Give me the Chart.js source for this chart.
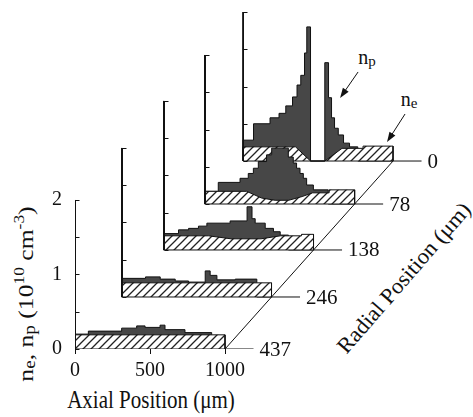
<!DOCTYPE html>
<html lang="en">
<head>
  <meta charset="UTF-8">
  <script src="https://cdn.jsdelivr.net/npm/chart.js"></script>
  <title>Electron and positive ion density</title>
  <style>
    html, body { margin: 0; padding: 0; background: #fff; overflow: hidden; }
    #wrap { position: relative; width: 473px; height: 417px; overflow: hidden; font-family: 'Liberation Serif', 'Times New Roman', serif; color: #111; }
    #chart { position: absolute; left: 0; top: 0; z-index: 2; }
    .lbl { position: absolute; z-index: 1; white-space: nowrap; line-height: 1; }
    .lbl sub { font-size: 75%; vertical-align: -0.15em; }
    .lbl sup { font-size: 68%; vertical-align: 0.6em; }
  </style>
</head>
<body>
<div id="wrap">
  <div class="lbl" style="left:151px;top:401px;font-size:21px;transform:translate(-50%,-50%) scaleY(1.15)">Axial Position (μm)</div>
  <div class="lbl" style="left:25px;top:294px;font-size:21px;transform:translate(-50%,-50%) rotate(-90deg) scaleX(1.22)">n<sub>e</sub>, n<sub>p</sub> (10<sup>10</sup> cm<sup>-3</sup>)</div>
  <div class="lbl" style="left:404px;top:278px;font-size:22px;transform:translate(-50%,-50%) rotate(-49deg) scaleX(1.04)">Radial Position (μm)</div>
  <div class="lbl" style="left:367px;top:58px;font-size:20px;transform:translate(-50%,-50%)">n<sub>p</sub></div>
  <div class="lbl" style="left:409px;top:100px;font-size:20px;transform:translate(-50%,-50%)">n<sub>e</sub></div>
  <canvas id="chart" width="473" height="417"></canvas>
</div>
<script>
  // radial positions, front panel first
  const radialLabels = ['437', '246', '138', '78', '0'];

  // np: [bin start (um), density], ne: [axial (um), density]
  const np437 = [[0, 0.20], [89, 0.24], [311, 0.28], [411, 0.31], [467, 0.29], [567, 0.32], [600, 0.26], [733, 0.22], [911, 0]];
  const ne437 = [[0, 0.19], [1000, 0.19]];

  const np246 = [[0, 0.25], [160, 0.27], [258, 0.24], [358, 0.215], [447, 0.2], [558, 0.35], [591, 0.29], [636, 0.23], [758, 0.24], [902, 0]];
  const ne246 = [[0, 0.19], [1000, 0.19]];

  const np138 = [[0, 0.22], [100, 0.27], [167, 0.29], [233, 0.32], [289, 0.36], [444, 0.39], [557, 0.58], [590, 0.42], [611, 0.36], [678, 0.29], [733, 0.245], [778, 0.2], [833, 0]];
  const ne138 = [[0, 0.19], [300, 0.19], [450, 0.15], [650, 0.15], [780, 0.19], [920, 0.19], [920, 0.21], [1000, 0.21]];

  const np78 = [[0, 0.17], [91, 0.29], [236, 0.345], [291, 0.41], [325, 0.48], [358, 0.57], [413, 0.66], [447, 0.75], [558, 0.63], [591, 0.55], [613, 0.48], [636, 0.41], [658, 0.345], [680, 0.255], [725, 0.19], [824, 0]];
  const ne78 = [[0, 0.17], [280, 0.17], [380, 0.08], [470, 0.05], [560, 0.05], [650, 0.1], [720, 0.15], [830, 0.15], [830, 0.19], [1000, 0.19]];

  const np0 = [[0, 0.28], [70, 0.50], [180, 0.58], [240, 0.64], [285, 0.74], [330, 0.86], [360, 1.02], [385, 1.15], [410, 1.45], [425, 1.80], [450, 0], [545, 1.32], [570, 0.85], [590, 0.58], [610, 0.44], [635, 0.35], [670, 0.24], [710, 0.19], [765, 0]];
  const ne0 = [[0, 0.19], [350, 0.19], [450, 0], [545, 0], [660, 0.17], [800, 0.17], [800, 0.2], [1000, 0.2]];

  const npSets = [np437, np246, np138, np78, np0];
  const neSets = [ne437, ne246, ne138, ne78, ne0];

  const xTicks = [0, 500, 1000];
  const yTicks = [0, 1, 2];
  const yMinorTicks = [0, 0.5, 1, 1.5, 2];
  const yTop = 2;

  // layout of the stacked panels (offset of each panel in axis units)
  const shiftX = [0, 310, 590, 864, 1120];
  const shiftY = [0, 0.698, 1.329, 1.946, 2.523];
  const axialEnd = 1000;
  const leader = 190;

  // arrows pointing at np and ne on the back panel: [from, to] in panel units
  const arrows = [
    [[767, 1.195], [647, 0.846]],
    [[1080, 0.631], [960, 0.255]]
  ];

  const canvas = document.getElementById('chart');
  const ctx = canvas.getContext('2d', { willReadFrequently: true });

  function makeHatch() {
    const c = document.createElement('canvas');
    c.width = 8; c.height = 8;
    const g = c.getContext('2d');
    g.fillStyle = '#fff';
    g.fillRect(0, 0, 8, 8);
    g.strokeStyle = '#222';
    g.lineWidth = 1.3;
    g.beginPath();
    g.moveTo(0, 8); g.lineTo(8, 0);
    g.moveTo(-1, 1); g.lineTo(1, -1);
    g.moveTo(7, 9); g.lineTo(9, 7);
    g.stroke();
    return ctx.createPattern(c, 'repeat');
  }
  const hatch = makeHatch();

  // front panel datasets come first so they are drawn on top
  const datasets = [];
  radialLabels.forEach((lab, i) => {
    const dx = shiftX[i], dy = shiftY[i];
    const shift = p => ({ x: p[0] + dx, y: p[1] + dy });
    datasets.push({
      label: 'axis ' + lab,
      data: [[0, yTop], [0, 0], [axialEnd + leader, 0]].map(shift),
      borderColor: '#111', borderWidth: 1, fill: false
    });
    datasets.push({
      label: 'ne ' + lab,
      data: [[0, 0], ...neSets[i], [axialEnd, 0]].map(shift),
      borderColor: '#111', borderWidth: 1,
      backgroundColor: hatch,
      fill: { value: dy }
    });
    datasets.push({
      label: 'np ' + lab,
      data: [[0, 0], ...npSets[i], [axialEnd, 0]].map(shift),
      stepped: true,
      borderColor: '#111', borderWidth: 1,
      backgroundColor: '#474747',
      fill: { value: dy }
    });
  });

  function drawArrow(c, x1, y1, x2, y2) {
    const a = Math.atan2(y2 - y1, x2 - x1);
    c.beginPath();
    c.moveTo(x1, y1);
    c.lineTo(x2 - 6 * Math.cos(a), y2 - 6 * Math.sin(a));
    c.stroke();
    c.beginPath();
    c.moveTo(x2, y2);
    c.lineTo(x2 - 10 * Math.cos(a) + 3.5 * Math.sin(a), y2 - 10 * Math.sin(a) - 3.5 * Math.cos(a));
    c.lineTo(x2 - 10 * Math.cos(a) - 3.5 * Math.sin(a), y2 - 10 * Math.sin(a) + 3.5 * Math.cos(a));
    c.closePath();
    c.fill();
  }

  const panelAxes = {
    id: 'panelAxes',
    afterDatasetsDraw(chart) {
      const c = chart.ctx;
      const { x, y } = chart.scales;
      c.save();
      c.strokeStyle = '#111';
      c.fillStyle = '#111';
      c.lineWidth = 1;
      c.font = '21px "Liberation Serif", serif';
      c.textBaseline = 'middle';
      radialLabels.forEach((lab, i) => {
        const px = Math.round(x.getPixelForValue(shiftX[i])) + 0.5;
        const bot = y.getPixelForValue(shiftY[i]);
        // axis line plus inward ticks every 0.5
        c.beginPath();
        c.moveTo(px, bot);
        c.lineTo(px, y.getPixelForValue(shiftY[i] + yTop));
        yMinorTicks.forEach(v => {
          const py = Math.round(y.getPixelForValue(shiftY[i] + v)) + 0.5;
          c.moveTo(px, py);
          c.lineTo(px + 4, py);
        });
        c.stroke();
        c.fillText(lab, x.getPixelForValue(shiftX[i] + axialEnd + leader) + 6, bot + 1);
      });
      // radial axis joining the panel corners
      const last = radialLabels.length - 1;
      c.beginPath();
      c.moveTo(x.getPixelForValue(axialEnd), y.getPixelForValue(0));
      c.lineTo(x.getPixelForValue(axialEnd + shiftX[last]), y.getPixelForValue(shiftY[last]));
      c.stroke();
      arrows.forEach(([a, b]) => {
        drawArrow(c,
          x.getPixelForValue(a[0] + shiftX[last]), y.getPixelForValue(a[1] + shiftY[last]),
          x.getPixelForValue(b[0] + shiftX[last]), y.getPixelForValue(b[1] + shiftY[last]));
      });
      c.restore();
    }
  };

  const tickFont = { family: 'Liberation Serif', size: 20 };

  new Chart(ctx, {
    type: 'line',
    data: { datasets },
    options: {
      responsive: false,
      animation: false,
      events: [],
      layout: { padding: { top: 5, right: 3, left: 0, bottom: 0 } },
      elements: { point: { radius: 0 }, line: { tension: 0 } },
      plugins: { legend: { display: false }, tooltip: { enabled: false } },
      scales: {
        x: {
          type: 'linear',
          min: 0,
          max: 2633,
          afterBuildTicks: s => { s.ticks = xTicks.map(v => ({ value: v })); },
          afterFit: s => { s.height = 68; s.paddingLeft = 0; s.paddingRight = 0; },
          ticks: { font: tickFont, color: '#111', padding: 5, maxRotation: 0, callback: v => String(v) },
          grid: { display: true, drawOnChartArea: false, tickLength: 5, color: '#111' },
          border: { display: false }
        },
        y: {
          type: 'linear',
          min: 0,
          max: 4.617,
          afterBuildTicks: s => { s.ticks = yTicks.map(v => ({ value: v })); },
          afterFit: s => { s.width = 75; s.paddingTop = 0; s.paddingBottom = 0; },
          ticks: { font: tickFont, color: '#111', padding: 13, callback: v => String(v) },
          grid: { display: false, drawTicks: false },
          border: { display: false }
        }
      }
    },
    plugins: [panelAxes]
  });
</script>
</body>
</html>
